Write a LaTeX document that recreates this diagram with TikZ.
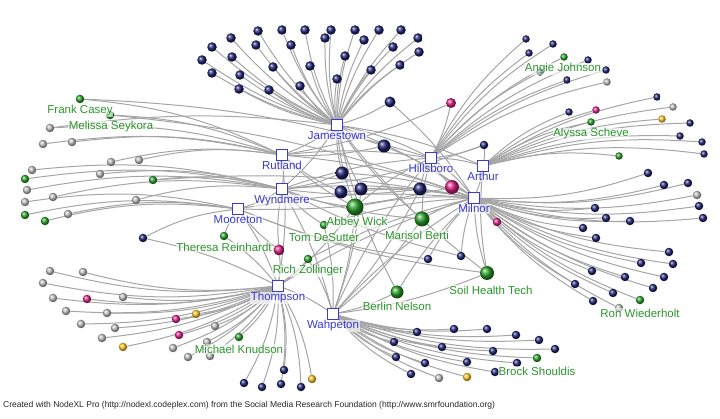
\documentclass[tikz,border=0pt]{standalone}
\usepackage{fontspec}
\setmainfont{Liberation Sans}
\usetikzlibrary{calc}
\definecolor{nv}{RGB}{30,34,112}
\definecolor{gr}{RGB}{190,190,190}
\definecolor{mg}{RGB}{218,32,132}
\definecolor{yl}{RGB}{246,196,40}
\definecolor{gn}{RGB}{40,160,40}
\definecolor{edgegray}{RGB}{165,165,165}
\definecolor{hubblue}{RGB}{58,58,212}
\definecolor{namegreen}{RGB}{44,150,44}
\pgfdeclarelayer{bg}
\pgfsetlayers{bg,main}
\tikzset{%
  myedge/.style={draw=edgegray, line width=1pt},
  myhub/.style={rectangle, draw=hubblue, fill=white, line width=0.9pt, minimum size=11pt, inner sep=0pt},
  myhublabel/.style={text=hubblue, font=\fontsize{11.5}{12}\selectfont, fill=white, fill opacity=0.6, text opacity=1, inner sep=0.5pt},
  myname/.style={text=namegreen, font=\fontsize{11.5}{12}\selectfont, fill=white, fill opacity=0.6, text opacity=1, inner sep=0.5pt},
  myball/.style={circle, inner sep=0pt, minimum size=8.5pt, ball color=#1},
  myfooter/.style={font=\fontsize{8.5}{9}\selectfont, text=black!85, anchor=west, inner sep=0pt}
}

\begin{document}
\begin{tikzpicture}[x=1pt, y=-1pt]
  \useasboundingbox (0,0) rectangle (720,419);

  % hubs
  \node[myhub, label={[myhublabel]below:Jamestown}] (jam) at (337,125) {};
  \node[myhub, label={[myhublabel]below:Rutland}] (rut) at (282,155) {};
  \node[myhub, label={[myhublabel]below:Wyndmere}] (wyn) at (282,189) {};
  \node[myhub, label={[myhublabel]below:Mooreton}] (moo) at (238,209) {};
  \node[myhub, label={[myhublabel]below:Hillsboro}] (hil) at (431,158) {};
  \node[myhub, label={[myhublabel]below:Arthur}] (art) at (483,166) {};
  \node[myhub, label={[myhublabel]below:Milnor}] (mil) at (474,198) {};
  \node[myhub, label={[myhublabel]below:Thompson}] (tho) at (278,286) {};
  \node[myhub, label={[myhublabel]below:Wahpeton}] (wah) at (333,314) {};

  % shared nodes in the middle
  \node[myball=gn, minimum size=17pt] (abbey) at (355,207) {};
  \node[myball=gn, minimum size=15pt] (marisol) at (422,219) {};
  \node[myball=gn] (tom) at (324,225) {};
  \node[myball=gn] (rich) at (308,259) {};
  \node[myball=gn] (theresa) at (224,236) {};
  \node[myball=gn, minimum size=14pt] (soil) at (487,273) {};
  \node[myball=gn, minimum size=13pt] (berlin) at (397,292) {};
  \node[myball=mg, minimum size=11pt] (c1) at (279,250) {};
  \node[myball=nv, minimum size=13pt] (c2) at (342,173) {};
  \node[myball=nv, minimum size=13pt] (c3) at (341,192) {};
  \node[myball=nv, minimum size=13pt] (c4) at (361,189) {};
  \node[myball=nv, minimum size=13pt] (c5) at (420,189) {};
  \node[myball=nv, minimum size=13pt] (c6) at (384,146) {};
  \node[myball=mg, minimum size=14pt] (c7) at (452,187) {};
  \node[myball=nv] (c8) at (484,145) {};
  \node[myball=nv] (c9) at (428,259) {};
  \node[myball=nv] (c10) at (461,256) {};
  \node[myball=nv, minimum size=11pt] (c11) at (390,102) {};
  \node[myball=mg, minimum size=10pt] (c12) at (451,103) {};
  \node[myball=mg] (c13) at (497,222) {};

  % leaves of each hub
  \foreach [count=\i] \x/\y in {231/38,258/31,282/30,305/30,331/30,355/30,379/30,401/30,418/38,
      212/47,256/45,291/45,325/38,364/40,393/47,419/52,202/60,232/57,273/67,310/66,345/56,
      400/65,212/73,240/75,300/86,337/79,371/70,239/89,269/90} {
    \node[myball=nv, minimum size=9.5pt] (j\i) at (\x,\y) {};
    \begin{pgfonlayer}{bg}\draw[myedge] (jam) to[bend left=8] (j\i);\end{pgfonlayer}
  }
  \foreach [count=\i] \x/\y/\c in {526/39/nv,553/44/nv,529/53/nv,564/57/gn,588/60/nv,540/72/nv,
      606/70/nv,567/80/nv,607/82/gr} {
    \node[myball=\c, minimum size=7.5pt] (h\i) at (\x,\y) {};
    \begin{pgfonlayer}{bg}\draw[myedge] (hil) to[bend left=10] (h\i);\end{pgfonlayer}
  }
  \foreach [count=\i] \x/\y/\c in {657/97/nv,673/107/gr,569/112/nv,596/110/mg,662/119/yl,690/123/nv,
      591/122/gn,680/136/nv,702/142/nv,704/154/nv,619/156/gn} {
    \node[myball=\c, minimum size=7.5pt] (a\i) at (\x,\y) {};
    \begin{pgfonlayer}{bg}\draw[myedge] (art) to[bend left=10] (a\i);\end{pgfonlayer}
  }
  \foreach [count=\i] \x/\y/\c in {648/173/nv,664/185/nv,688/183/nv,697/195/gr,699/206/nv,703/218/nv,
      595/208/nv,606/218/nv,630/221/nv,583/228/nv,596/238/nv,669/252/nv,673/264/nv,641/263/nv,
      664/277/nv,625/277/nv,592/271/nv,653/288/nv,613/293/nv,575/284/nv,593/301/nv,640/300/gn,
      619/308/gr} {
    \node[myball=\c] (m\i) at (\x,\y) {};
    \begin{pgfonlayer}{bg}\draw[myedge] (mil) to[bend right=10] (m\i);\end{pgfonlayer}
  }
  \foreach [count=\i] \x/\y/\c in {417/332/nv,454/329/nv,487/329/nv,516/335/nv,539/340/nv,555/349/nv,
      394/342/nv,442/347/nv,493/351/nv,537/358/gn,396/357/nv,425/363/nv,467/362/nv,517/363/nv,
      495/372/nv,411/374/nv,439/378/gr,467/377/yl} {
    \node[myball=\c] (w\i) at (\x,\y) {};
    \begin{pgfonlayer}{bg}\draw[myedge] (wah) to[bend right=10] (w\i);\end{pgfonlayer}
  }
  \foreach [count=\i] \x/\y/\c in {50/271/gr,83/272/gr,43/283/gr,53/298/gr,87/299/mg,123/297/gr,
      66/311/gr,107/313/gr,176/319/mg,196/314/yl,81/324/gr,115/328/gr,215/326/gr,102/338/gr,
      179/335/mg,207/342/gr,123/347/yl,173/348/gr,188/357/gr,210/356/gr,239/337/gn,284/370/nv,
      244/383/nv,262/387/nv,281/384/nv,301/387/nv,312/379/yl} {
    \node[myball=\c] (t\i) at (\x,\y) {};
    \begin{pgfonlayer}{bg}\draw[myedge] (tho) to[bend left=10] (t\i);\end{pgfonlayer}
  }
  \foreach [count=\i] \x/\y/\c in {80/99/gn,110/115/gn,50/128/gr,43/144/gr,72/142/gr,111/162/gr,
      139/160/gr} {
    \node[myball=\c] (r\i) at (\x,\y) {};
    \begin{pgfonlayer}{bg}\draw[myedge] (rut) to[bend right=10] (r\i);\end{pgfonlayer}
  }
  \foreach [count=\i] \x/\y/\c in {32/170/gr,100/174/gr,153/180/gn,25/179/gn,27/190/gr,53/197/gr,
      136/200/gr} {
    \node[myball=\c] (y\i) at (\x,\y) {};
    \begin{pgfonlayer}{bg}\draw[myedge] (wyn) to[bend right=10] (y\i);\end{pgfonlayer}
  }
  \foreach [count=\i] \x/\y/\c in {25/202/gr,25/215/gn,45/221/gn,68/214/gr,143/238/nv} {
    \node[myball=\c] (o\i) at (\x,\y) {};
    \begin{pgfonlayer}{bg}\draw[myedge] (moo) to[bend right=10] (o\i);\end{pgfonlayer}
  }

  % links across the middle
  \begin{pgfonlayer}{bg}
  \foreach \a/\b in {jam/rut,jam/wyn,jam/hil,jam/mil,jam/art,rut/wyn,rut/hil,rut/mil,wyn/moo,
      wyn/mil,wyn/hil,moo/tho,moo/mil,tho/wah,tho/mil,wah/mil,wah/hil,hil/art,hil/mil,art/mil,
      wyn/wah,rut/tho,
      abbey/jam,abbey/rut,abbey/wyn,abbey/mil,abbey/hil,abbey/wah,abbey/tho,
      marisol/jam,marisol/mil,marisol/hil,marisol/wah,marisol/wyn,
      tom/wyn,tom/wah,tom/mil,rich/tho,rich/wah,rich/mil,theresa/moo,theresa/tho,
      c1/wyn,c1/tho,c1/moo,soil/mil,soil/moo,soil/wah,soil/art,soil/jam,
      berlin/wah,berlin/mil,berlin/jam,c2/jam,c2/wyn,c2/mil,c3/rut,c3/mil,
      c4/jam,c4/mil,c4/wah,c5/hil,c5/wyn,c5/wah,c6/jam,c6/mil,c6/rut,
      c7/hil,c7/mil,c7/moo,c8/art,c8/hil,c8/wyn,c9/mil,c9/moo,c10/mil,c10/wyn,
      c11/mil,c11/jam,c12/hil,c12/rut,c13/mil,r1/hil,r2/mil,r3/jam,y3/mil,o5/tho} {
    \draw[myedge] (\a) to[bend left=7] (\b);
  }
  \end{pgfonlayer}

  % names
  \node[myname] (nFrank) at (80,111) {Frank Casey};
  \node[myname] (nMelissa) at (111,127) {Melissa Seykora};
  \node[myname] (nAngie) at (563,69) {Angie Johnson};
  \node[myname] (nAlyssa) at (591,134) {Alyssa Scheve};
  \node[myname] (nAbbey) at (357,223) {Abbey Wick};
  \node[myname] (nTom) at (324,238) {Tom DeSutter};
  \node[myname] (nMarisol) at (417,235) {Marisol Berti};
  \node[myname] (nTheresa) at (224,247) {Theresa Reinhardt};
  \node[myname] (nRich) at (308,271) {Rich Zollinger};
  \node[myname] (nSoil) at (491,290) {Soil Health Tech};
  \node[myname] (nBerlin) at (397,306) {Berlin Nelson};
  \node[myname] (nRon) at (640,313) {Ron Wiederholt};
  \node[myname] (nMichael) at (239,349) {Michael Knudson};
  \node[myname] (nBrock) at (537,371) {Brock Shouldis};

  \node[myfooter] (credit) at (3,405) {Created with NodeXL Pro (http://nodexl.codeplex.com) from the Social Media Research Foundation (http://www.smrfoundation.org)};
\end{tikzpicture}
\end{document}
